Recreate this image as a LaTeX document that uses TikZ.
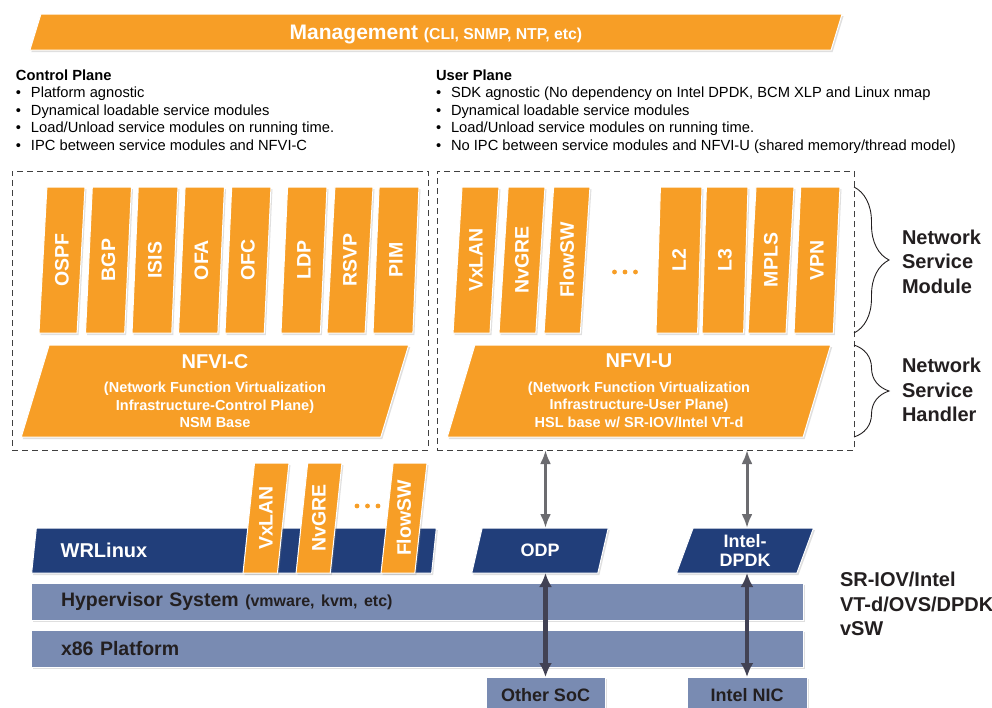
\documentclass[tikz,border=0pt]{standalone}
\usepackage{fontspec}
\setmainfont{Liberation Sans}
\usetikzlibrary{shapes.geometric,shadows,decorations.pathreplacing,arrows.meta}
\definecolor{nfvorange}{RGB}{247,158,38}
\definecolor{osnavy}{RGB}{33,62,122}
\definecolor{hwsteel}{RGB}{121,139,178}
\definecolor{labelgray}{RGB}{35,31,32}
\definecolor{linkgray}{RGB}{108,108,112}
\definecolor{busgray}{RGB}{66,66,84}
\newcommand{\notebullet}{\makebox[15pt][l]{\textbullet}}

\begin{document}
\begin{tikzpicture}[x=1pt, y=-1pt,
    every node/.style={inner sep=0pt, outer sep=0pt},
    softshadow/.style={drop shadow={shadow xshift=1.5pt, shadow yshift=-2pt, opacity=0.25}},
    slab/.style={trapezium, trapezium stretches=true, trapezium left angle=76, trapezium right angle=104,
        inner sep=1pt, fill=nfvorange, draw=white, line width=1pt, text=white, font=\bfseries, softshadow},
    module/.style={slab, trapezium left angle=85.7, trapezium right angle=94.3,
        minimum width=46pt, minimum height=146pt, font=\bfseries\fontsize{19.5}{20}\selectfont},
    vmodule/.style={module, trapezium left angle=83.3, trapezium right angle=96.7, minimum height=110pt},
    osbar/.style={slab, fill=osnavy, minimum height=45pt, align=center, font=\bfseries\fontsize{18}{19}\selectfont},
    hwbar/.style={rectangle, fill=hwsteel, draw=white, line width=1pt, text=labelgray, softshadow,
        font=\bfseries\fontsize{19.5}{22}\selectfont},
    planebox/.style={draw=black!75, dash pattern=on 6pt off 4pt, line width=0.8pt, minimum height=279pt},
    notes/.style={anchor=north west, align=left, text=black, font=\fontsize{14.7}{17.6}\selectfont},
    sidelabel/.style={anchor=west, align=left, text=labelgray, font=\bfseries\fontsize{20}{24.5}\selectfont},
    sidebrace/.style={decorate, decoration={brace, amplitude=35pt}, draw=labelgray, line width=0.9pt},
    hostlink/.style={draw=linkgray, line width=3pt, {Latex[length=14pt,width=11pt]}-{Latex[length=14pt,width=11pt]}},
    buslink/.style={draw=busgray, line width=4.5pt, {Latex[length=14pt,width=13pt]}-{Latex[length=14pt,width=13pt]}}
]
    \useasboundingbox (0,0) rectangle (992,707);
    \fill[white] (0,0) rectangle (992,707);

    % Management
    \node[slab, minimum width=814pt, minimum height=36pt, text depth=0pt, font=\bfseries\fontsize{21}{22}\selectfont] (mgmt) at (436,32)
        {Management {\fontsize{15.8}{17}\selectfont (CLI, SNMP, NTP, etc)}};

    % Plane notes
    \node[notes] (cpnotes) at (16,69.5) {\textbf{Control Plane}\\
        \notebullet Platform agnostic\\
        \notebullet Dynamical loadable service modules\\
        \notebullet Load/Unload service modules on running time.\\
        \notebullet IPC between service modules and NFVI-C};
    \node[notes] (upnotes) at (436,69.5) {\textbf{User Plane}\\
        \notebullet SDK agnostic (No dependency on Intel DPDK, BCM XLP and Linux nmap\\
        \notebullet Dynamical loadable service modules\\
        \notebullet Load/Unload service modules on running time.\\
        \notebullet No IPC between service modules and NFVI-U (shared memory/thread model)};

    % Control plane
    \node[planebox, minimum width=416pt] (cplane) at (220,310.5) {};
    \node[module] (ospf) at (62,260) {\rotatebox{90}{OSPF}};
    \node[module] (bgp) at (108.5,260) {\rotatebox{90}{BGP}};
    \node[module] (isis) at (155,260) {\rotatebox{90}{ISIS}};
    \node[module] (ofa) at (201.5,260) {\rotatebox{90}{OFA}};
    \node[module] (ofc) at (248,260) {\rotatebox{90}{OFC}};
    \node[module] (ldp) at (304,260) {\rotatebox{90}{LDP}};
    \node[module] (rsvp) at (350,260) {\rotatebox{90}{RSVP}};
    \node[module] (pim) at (396,260) {\rotatebox{90}{PIM}};
    \node[slab, minimum width=388pt, minimum height=92pt, align=center, font=\bfseries\fontsize{14.5}{17.5}\selectfont] (nfvic) at (215,391)
        {{\fontsize{20}{22}\selectfont NFVI-C}\\[7pt](Network Function Virtualization\\Infrastructure-Control Plane)\\NSM Base};

    % User plane
    \node[planebox, minimum width=417pt] (uplane) at (645.5,310.5) {};
    \node[module] (vxlan) at (476,260) {\rotatebox{90}{VxLAN}};
    \node[module] (nvgre) at (522,260) {\rotatebox{90}{NvGRE}};
    \node[module] (flowsw) at (567,260) {\rotatebox{90}{FlowSW}};
    \foreach \dx in {-10.5,0,10.5}
        \fill[nfvorange] (625+\dx,272) circle (2.4pt);
    \node[module] (ltwo) at (679,260) {\rotatebox{90}{L2}};
    \node[module] (lthree) at (725,260) {\rotatebox{90}{L3}};
    \node[module] (mpls) at (771,260) {\rotatebox{90}{MPLS}};
    \node[module] (vpn) at (817,260) {\rotatebox{90}{VPN}};
    \node[slab, minimum width=384pt, minimum height=92pt, align=center, font=\bfseries\fontsize{14.5}{17.5}\selectfont] (nfviu) at (639,391)
        {{\fontsize{20}{22}\selectfont NFVI-U}\\[7pt](Network Function Virtualization\\Infrastructure-User Plane)\\HSL base w/ SR-IOV/Intel VT-d};

    % Braces and side labels
    \draw[sidebrace] (uplane.east |- vpn.north) -- (uplane.east |- vpn.south);
    \draw[sidebrace] (uplane.east |- nfviu.north) -- (uplane.east |- nfviu.south);
    \node[sidelabel] (nsm) at (902,261.5) {Network\\Service\\Module};
    \node[sidelabel] (nsh) at (902,390) {Network\\Service\\Handler};

    % Hardware and hypervisor
    \node[hwbar, minimum width=772pt, minimum height=37pt, text width=712pt, inner xsep=30pt, align=left] (hyper) at (417,601.5)
        {Hypervisor System {\fontsize{16}{17}\selectfont (vmware, kvm, etc)}};
    \node[hwbar, minimum width=772pt, minimum height=37pt, text width=712pt, inner xsep=30pt, align=left] (xplat) at (417,648.5)
        {x86 Platform};
    \node[hwbar, minimum width=119pt, minimum height=36pt, font=\bfseries\fontsize{18}{20}\selectfont] (othersoc) at (545.5,695) {Other SoC};
    \node[hwbar, minimum width=120pt, minimum height=36pt, font=\bfseries\fontsize{18}{20}\selectfont] (intelnic) at (747,695) {Intel NIC};

    % Guest OS and data plane SDKs
    \node[osbar, minimum width=406pt, font=\bfseries\fontsize{20}{22}\selectfont] (wrlinux) at (234,550.5)
        {WRLinux\hspace*{260pt}};
    \node[vmodule] (vxlanvm) at (266,518) {\rotatebox{90}{VxLAN}};
    \node[vmodule] (nvgrevm) at (319,518) {\rotatebox{90}{NvGRE}};
    \node[vmodule] (flowswvm) at (404,518) {\rotatebox{90}{FlowSW}};
    \foreach \dx in {-10.5,0,10.5}
        \fill[nfvorange] (367.5+\dx,506) circle (2.4pt);
    \node[osbar, minimum width=137pt] (odp) at (540,550.5) {ODP};
    \node[osbar, minimum width=138pt] (dpdk) at (745,550.5) {Intel-\\DPDK};
    \node[sidelabel] (sriov) at (840,604) {SR-IOV/Intel\\VT-d/OVS/DPDK\\vSW};

    % Links
    \draw[hostlink] (othersoc.north |- uplane.south) -- (othersoc.north |- odp.north);
    \draw[hostlink] (intelnic.north |- uplane.south) -- (intelnic.north |- dpdk.north);
    \draw[buslink] (othersoc.north |- odp.south) -- (othersoc.north);
    \draw[buslink] (intelnic.north |- dpdk.south) -- (intelnic.north);

\end{tikzpicture}
\end{document}
